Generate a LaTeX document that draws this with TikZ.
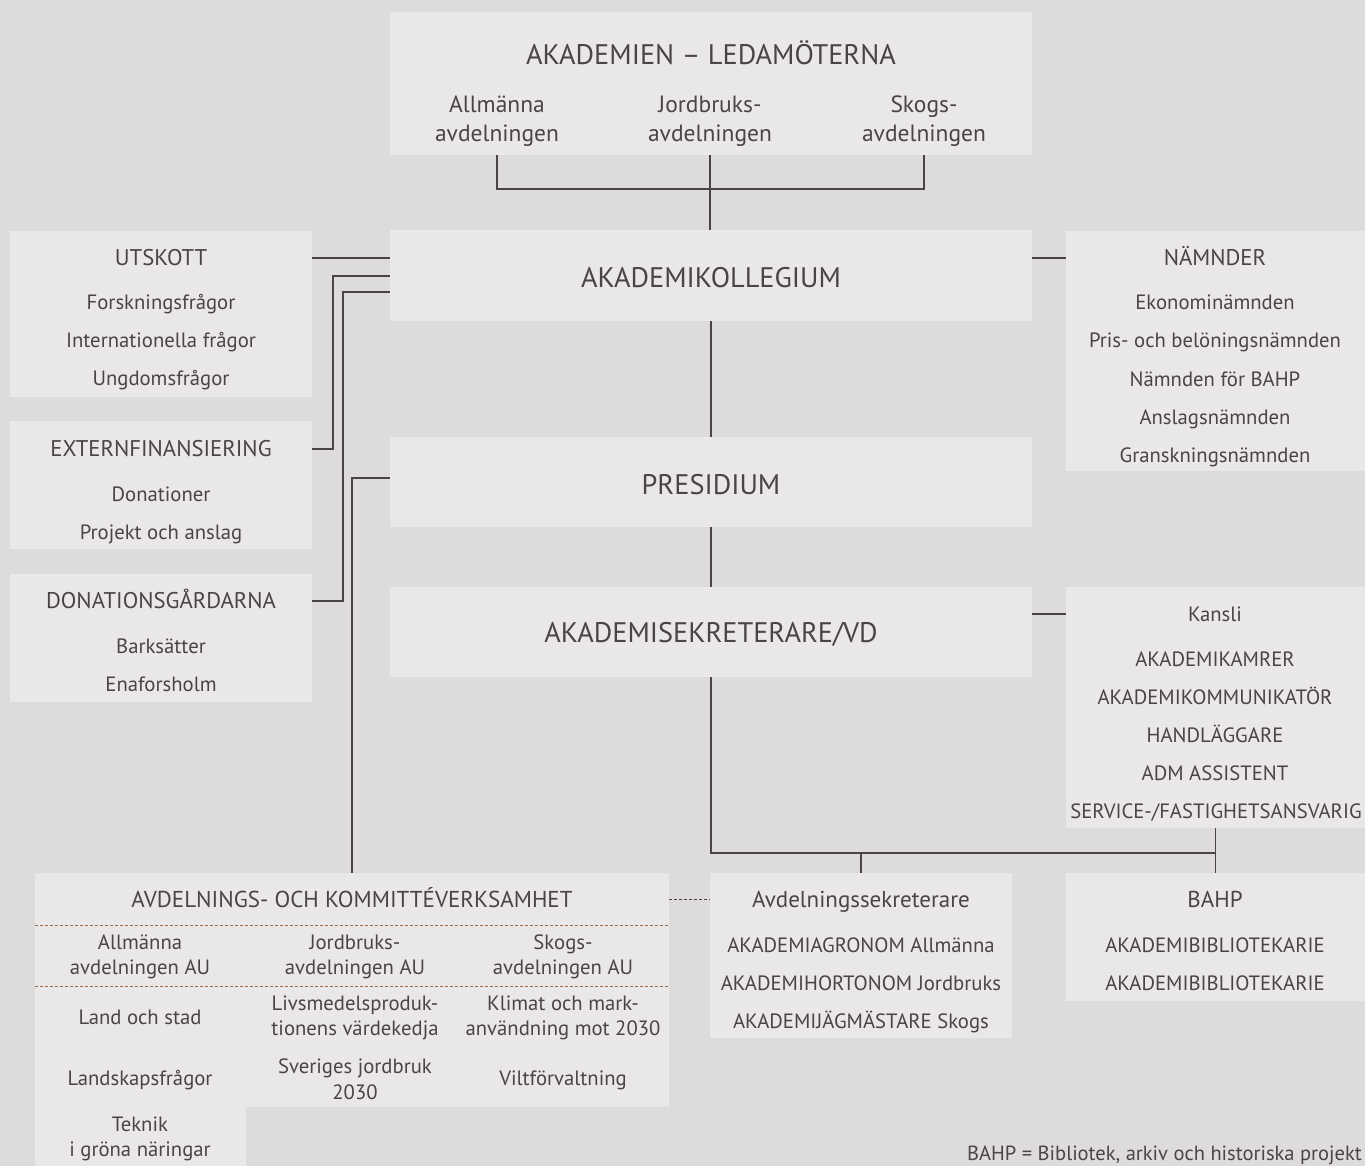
\documentclass[tikz,border=0pt]{standalone}
\usepackage{fontspec}
\setmainfont{PT Sans}
\definecolor{bgc}{HTML}{DEDBDB}
\definecolor{boxc}{HTML}{E9E7E7}
\definecolor{ink}{HTML}{4B4347}
\definecolor{dashc}{HTML}{9A6A4A}
\begin{document}
\begin{tikzpicture}[x=1pt,y=-1pt,
  boxst/.style={fill=boxc, draw=none, inner sep=0pt, outer sep=0pt, anchor=north west},
  txt/.style={text=ink, inner sep=0pt, outer sep=0pt, anchor=center, align=center},
  big/.style={txt, text height=19.8pt, text depth=0pt, font=\fontsize{28.3}{32}\selectfont},
  head/.style={txt, text height=15.9pt, text depth=0pt, font=\fontsize{22.7}{26}\selectfont},
  item/.style={txt, text height=14.5pt, text depth=0pt, font=\fontsize{20.7}{24}\selectfont},
  sub/.style={txt, font=\fontsize{23.5}{29}\selectfont},
  chead/.style={txt, text height=16.1pt, text depth=0pt, font=\fontsize{23}{26}\selectfont},
  citem/.style={txt, text height=14.5pt, text depth=0pt, font=\fontsize{20.7}{24}\selectfont},
  cmulti/.style={txt, font=\fontsize{20.7}{25.5}\selectfont},
  conn/.style={draw=ink, line width=1.2pt},
  dconn/.style={draw=ink, line width=1pt, dash pattern=on 3pt off 2pt},
  sepline/.style={draw=dashc, line width=1pt, dash pattern=on 3pt off 2pt}
]
\fill[bgc] (0,0) rectangle (1365,1166);
\useasboundingbox (0,0) rectangle (1365,1166);

% ---------- boxes ----------
\node[boxst, minimum width=642pt, minimum height=143pt] (ledam) at (390,12) {};
\node[boxst, minimum width=642pt, minimum height=91pt] (koll) at (390,230) {};
\node[boxst, minimum width=642pt, minimum height=90pt] (pres) at (390,437) {};
\node[boxst, minimum width=642pt, minimum height=90pt] (sek) at (390,587) {};
\node[boxst, minimum width=302pt, minimum height=166pt] (utsk) at (10,231) {};
\node[boxst, minimum width=302pt, minimum height=128pt] (ext) at (10,421) {};
\node[boxst, minimum width=302pt, minimum height=128pt] (don) at (10,574) {};
\node[boxst, minimum width=299pt, minimum height=240pt] (nam) at (1066,231) {};
\node[boxst, minimum width=299pt, minimum height=241pt] (kan) at (1066,587) {};
\node[boxst, minimum width=634pt, minimum height=234pt] (avd) at (35,873) {};
\node[boxst, minimum width=211pt, minimum height=60pt] (avdext) at (35,1106) {};
\node[boxst, minimum width=302pt, minimum height=165pt] (avds) at (710,873) {};
\node[boxst, minimum width=299pt, minimum height=128pt] (bahp) at (1066,873) {};

% ---------- top ----------
\node[big] (ledamT) at (711,55) {AKADEMIEN – LEDAMÖTERNA};
\node[sub] (allm) at (497,121) {Allmänna\\avdelningen};
\node[sub] (jord) at (710,121) {Jordbruks-\\avdelningen};
\node[sub] (skog) at (924,121) {Skogs-\\avdelningen};
\node[big] (kollT) at (711,278) {AKADEMIKOLLEGIUM};
\node[big] (presT) at (711,485) {PRESIDIUM};
\node[big] (sekT) at (711,633) {AKADEMISEKRETERARE/VD};

% ---------- left ----------
\node[head] (utskT) at (161,258) {UTSKOTT};
\node[item] (u1) at (161,302) {Forskningsfrågor};
\node[item] (u2) at (161,340) {Internationella frågor};
\node[item] (u3) at (161,378) {Ungdomsfrågor};
\node[head] (extT) at (161,449) {EXTERNFINANSIERING};
\node[item] (e1) at (161,494) {Donationer};
\node[item] (e2) at (161,532) {Projekt och anslag};
\node[head] (donT) at (161,601) {DONATIONSGÅRDARNA};
\node[item] (d1) at (161,646) {Barksätter};
\node[item] (d2) at (161,684) {Enaforsholm};

% ---------- right ----------
\node[head] (namT) at (1215,258) {NÄMNDER};
\node[item] (n1) at (1215,302) {Ekonominämnden};
\node[item] (n2) at (1215,340) {Pris- och belöningsnämnden};
\node[item] (n3) at (1215,379) {Nämnden för BAHP};
\node[item] (n4) at (1215,417) {Anslagsnämnden};
\node[item] (n5) at (1215,455) {Granskningsnämnden};
\node[item] (kanT) at (1215,614) {Kansli};
\node[item] (k1) at (1215,659) {AKADEMIKAMRER};
\node[item] (k2) at (1215,697) {AKADEMIKOMMUNIKATÖR};
\node[item] (k3) at (1215,735) {HANDLÄGGARE};
\node[item] (k4) at (1215,773) {ADM ASSISTENT};
\node[item] (k5) at (1216,811) {SERVICE-/FASTIGHETSANSVARIG};

% ---------- bottom ----------
\node[chead] (avdT) at (352,899) {AVDELNINGS- OCH KOMMITTÉVERKSAMHET};
\node[cmulti] (c1) at (140,957) {Allmänna\\avdelningen AU};
\node[cmulti] (c2) at (355,957) {Jordbruks-\\avdelningen AU};
\node[cmulti] (c3) at (563,957) {Skogs-\\avdelningen AU};
\node[citem] (r11) at (140,1017) {Land och stad};
\node[cmulti] (r12) at (355,1018) {Livsmedelsproduk-\\tionens värdekedja};
\node[cmulti] (r13) at (563,1018) {Klimat och mark-\\användning mot 2030};
\node[citem] (r21) at (140,1078) {Landskapsfrågor};
\node[cmulti] (r22) at (355,1079) {Sveriges jordbruk\\2030};
\node[citem] (r23) at (563,1078) {Viltförvaltning};
\node[cmulti] (r31) at (140,1139) {Teknik\\i gröna näringar};

\node[chead] (avdsT) at (861,899) {Avdelningssekreterare};
\node[citem] (a1) at (861,945) {AKADEMIAGRONOM Allmänna};
\node[citem] (a2) at (861,983) {AKADEMIHORTONOM Jordbruks};
\node[citem] (a3) at (861,1021) {AKADEMIJÄGMÄSTARE Skogs};
\node[chead] (bahpT) at (1215,899) {BAHP};
\node[citem] (b1) at (1215,945) {AKADEMIBIBLIOTEKARIE};
\node[citem] (b2) at (1215,983) {AKADEMIBIBLIOTEKARIE};

\node[text=ink, inner sep=0pt, anchor=base east, font=\fontsize{20.5}{24}\selectfont] (foot) at (1362,1160.5) {BAHP = Bibliotek, arkiv och historiska projekt};

% ---------- separators inside bottom box ----------
\draw[sepline] (avd.west |- 0,925) coordinate (s1a) -- (avd.east |- s1a);
\draw[sepline] (avd.west |- 0,986) coordinate (s2a) -- (avd.east |- s2a);

% ---------- connectors ----------
\coordinate (tbar) at ([yshift=-34pt]ledam.south);
\draw[conn] (ledam.south -| allm) -- (tbar -| allm) -- (tbar -| skog) -- (ledam.south -| skog);
\draw[conn] (ledam.south -| jord) -- (koll.north -| jord);
\draw[conn] (koll.south) -- (pres.north);
\draw[conn] (pres.south) -- (sek.north);

\coordinate (kin2) at ([yshift=-46pt]koll.north west);
\coordinate (kin3) at ([yshift=-62pt]koll.north west);
\coordinate (pin) at ([yshift=-41pt]pres.north west);
\draw[conn] (utskT -| utsk.east) -- (utskT -| koll.west);
\draw[conn] (extT -| ext.east) -- ++(21,0) |- (kin2);
\draw[conn] (donT -| don.east) -- ++(31,0) |- (kin3);
\draw[conn] (avd.north) |- (pin);

\draw[conn] (namT -| koll.east) -- (namT -| nam.west);
\draw[conn] (kanT -| sek.east) -- (kanT -| kan.west);

\coordinate (junc) at ([yshift=20pt]bahp.north);
\draw[conn] (sek.south) |- (junc);
\draw[conn] (kan.south) -- (bahp.north);
\draw[conn] (junc -| avds.north) -- (avds.north);
\draw[dconn] (avdT -| avd.east) -- (avdT -| avds.west);
\end{tikzpicture}
\end{document}
